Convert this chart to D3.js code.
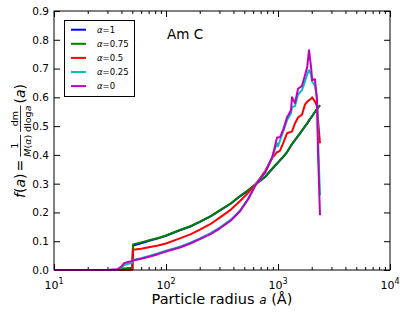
<!DOCTYPE html>
<html>
<head>
<meta charset="utf-8">
<title>Am C</title>
<style>
body { margin: 0; background: #fff; }
text { font-family: "DejaVu Sans", sans-serif; fill: #000; }
.axis path { display: none; }
.axis line { stroke: #000; stroke-width: 1; }
.curve { fill: none; stroke-width: 2; stroke-linejoin: round; }
</style>
</head>
<body>
<script src="https://cdn.jsdelivr.net/npm/d3@7/dist/d3.min.js"></script>
<script>

// particle radius grid (Angstrom)
var radius = [10, 30, 37, 40, 42, 45, 50, 50.8, 60, 72, 85, 100, 133, 165, 201, 250, 304, 380, 458,
  540, 624, 700, 771, 886, 940, 979, 1000, 1042, 1110, 1203, 1306, 1334, 1419, 1510, 1638, 1742,
  1823, 1892, 1973, 2018, 2137, 2229, 2280, 2371];

// f(a) for each alpha
var alpha1 = [0, 0, 0, 0.002, 0.004, 0.005, 0.007, 0.085, 0.093, 0.102, 0.11, 0.119, 0.138, 0.151,
  0.167, 0.186, 0.207, 0.231, 0.256, 0.276, 0.296, 0.311, 0.324, 0.351, 0.362, 0.369, 0.373, 0.381,
  0.392, 0.409, 0.432, 0.437, 0.451, 0.465, 0.484, 0.499, 0.509, 0.519, 0.529, 0.534, 0.549, 0.559,
  0.564, 0.572];
var alpha075 = [0, 0, 0, 0.002, 0.005, 0.006, 0.008, 0.089, 0.096, 0.104, 0.111, 0.12, 0.139, 0.152,
  0.168, 0.187, 0.208, 0.232, 0.257, 0.277, 0.297, 0.312, 0.325, 0.352, 0.363, 0.37, 0.374, 0.382,
  0.393, 0.41, 0.433, 0.438, 0.452, 0.466, 0.485, 0.5, 0.51, 0.52, 0.53, 0.535, 0.55, 0.56,
  0.565, 0.573];
var alpha05 = [0, 0, 0, 0, 0, 0, 0.001, 0.07, 0.074, 0.08, 0.085, 0.092, 0.11, 0.124,
  0.14, 0.16, 0.183, 0.21, 0.24, 0.268, 0.296, 0.322, 0.345, 0.39, 0.4, 0.41, 0.41, 0.415,
  0.44, 0.475, 0.48, 0.482, 0.51, 0.53, 0.54, 0.575, 0.585, 0.59, 0.595, 0.6, 0.585, 0.57,
  0.52, 0.44];
var alpha025 = [0, 0, 0.002, 0.008, 0.016, 0.02, 0.026, 0.035, 0.041, 0.05, 0.058, 0.067, 0.081, 0.095,
  0.11, 0.128, 0.148, 0.175, 0.207, 0.247, 0.294, 0.319, 0.34, 0.39, 0.42, 0.44, 0.43, 0.45,
  0.48, 0.52, 0.545, 0.566, 0.57, 0.61, 0.625, 0.655, 0.68, 0.694, 0.68, 0.655, 0.64, 0.6,
  0.45, 0.26];
var alpha0 = [0, 0, 0.003, 0.012, 0.023, 0.027, 0.031, 0.033, 0.039, 0.047, 0.055, 0.064, 0.078, 0.092,
  0.107, 0.125, 0.145, 0.172, 0.204, 0.245, 0.292, 0.318, 0.34, 0.39, 0.43, 0.46, 0.46, 0.462,
  0.486, 0.53, 0.555, 0.6, 0.58, 0.63, 0.64, 0.677, 0.705, 0.764, 0.705, 0.66, 0.663, 0.59,
  0.4, 0.19];

var seriesNames = ["1", "0.75", "0.5", "0.25", "0"];
var seriesColors = ["#0000ff", "#008000", "#ff0000", "#00bfbf", "#bf00bf"];
var seriesValues = [alpha1, alpha075, alpha05, alpha025, alpha0];

var xMajor = [10, 100, 1000, 10000];
var xExponents = ["1", "2", "3", "4"];
var yTicks = [0, 0.1, 0.2, 0.3, 0.4, 0.5, 0.6, 0.7, 0.8, 0.9];

var width = 407, height = 315;
var plotL = 54, plotR = 390, plotT = 11, plotB = 270;

var svg = d3.select("body").append("svg")
    .attr("width", width)
    .attr("height", height);

var x = d3.scaleLog().domain([10, 10000]).range([plotL, plotR]);
var y = d3.scaleLinear().domain([0, 0.9]).range([plotB, plotT]);

// minor ticks 2..9 per decade
var xMinor = [];
[10, 100, 1000].forEach(function(d) {
  for (var k = 2; k <= 9; k++) xMinor.push(d * k);
});

// ticks point inward, on all four sides
svg.append("g").attr("class", "axis")
    .attr("transform", "translate(0," + plotB + ")")
    .call(d3.axisBottom(x).tickValues(xMajor).tickSize(-6).tickFormat(""));
svg.append("g").attr("class", "axis")
    .attr("transform", "translate(0," + plotB + ")")
    .call(d3.axisBottom(x).tickValues(xMinor).tickSize(-3).tickFormat(""));
svg.append("g").attr("class", "axis")
    .attr("transform", "translate(0," + plotT + ")")
    .call(d3.axisTop(x).tickValues(xMajor).tickSize(-6).tickFormat(""));
svg.append("g").attr("class", "axis")
    .attr("transform", "translate(0," + plotT + ")")
    .call(d3.axisTop(x).tickValues(xMinor).tickSize(-3).tickFormat(""));

svg.append("g").attr("class", "axis")
    .attr("transform", "translate(" + plotL + ",0)")
    .call(d3.axisLeft(y).tickValues(yTicks).tickSize(-6).tickPadding(5).tickFormat(d3.format(".1f")))
    .selectAll("text")
    .style("font-size", "10.5px")
    .style("font-family", "DejaVu Sans");
svg.append("g").attr("class", "axis")
    .attr("transform", "translate(" + plotR + ",0)")
    .call(d3.axisRight(y).tickValues(yTicks).tickSize(-6).tickFormat(""));

// x tick labels with superscripts
var xl = svg.append("g").selectAll("text")
    .data(xMajor)
    .enter().append("text")
    .attr("x", function(d) { return x(d); })
    .attr("y", 289)
    .attr("text-anchor", "middle")
    .style("font-size", "11px");
xl.append("tspan").text("10");
xl.append("tspan")
    .attr("dy", -5)
    .style("font-size", "8px")
    .text(function(d, i) { return xExponents[i]; });

// curves
var line = d3.line()
    .x(function(d) { return x(d[0]); })
    .y(function(d) { return y(d[1]); });

svg.append("g").selectAll("path")
    .data(seriesValues)
    .enter().append("path")
    .attr("class", "curve")
    .attr("stroke", function(d, i) { return seriesColors[i]; })
    .attr("d", function(vals) {
      return line(vals.map(function(v, j) { return [radius[j], v]; }));
    });

// frame
svg.append("rect")
    .attr("x", plotL).attr("y", plotT)
    .attr("width", plotR - plotL).attr("height", plotB - plotT)
    .attr("fill", "none")
    .attr("stroke", "#000")
    .attr("stroke-width", 1);

// title inside plot
svg.append("text")
    .attr("x", 167).attr("y", 39)
    .style("font-size", "13.5px")
    .text("Am C");

// legend
var lg = svg.append("g");
lg.append("rect")
    .attr("x", 64.5).attr("y", 20.5)
    .attr("width", 70).attr("height", 76)
    .attr("fill", "#fff")
    .attr("stroke", "#000");
var row = lg.selectAll("g.row")
    .data(seriesNames)
    .enter().append("g")
    .attr("class", "row")
    .attr("transform", function(d, i) { return "translate(0," + (29.7 + i * 14.1) + ")"; });
row.append("line")
    .attr("x1", 71).attr("x2", 86)
    .attr("stroke-width", 2)
    .attr("stroke", function(d, i) { return seriesColors[i]; });
var lt = row.append("text")
    .attr("x", 97).attr("y", 3)
    .style("font-size", "8.5px");
lt.append("tspan").style("font-style", "italic").text("\u03b1");
lt.append("tspan").text(function(d) { return "=" + d; });

// x label
var xt = svg.append("text")
    .attr("x", 222).attr("y", 304)
    .attr("text-anchor", "middle")
    .style("font-size", "14.5px");
xt.append("tspan").text("Particle radius ");
xt.append("tspan").style("font-style", "italic").style("font-size", "12px").text("a");
xt.append("tspan").text(" (\u00c5)");

// y label: f(a) = 1/M(alpha) dm/dloga (a), built piece by piece
var yl = svg.append("g");
var pos = 0;
function piece(parts, size, dy) {
  var t = yl.append("text").attr("x", pos).attr("y", dy).style("font-size", size + "px");
  parts.forEach(function(p) {
    t.append("tspan").style("font-style", p[1] ? "italic" : "normal").text(p[0]);
  });
  return t;
}
function run(parts, size) {
  var t = piece(parts, size, 0);
  pos += t.node().getComputedTextLength();
}
function frac(num, den) {
  var start = pos;
  var n = piece(num, 9.5, -7.5);
  var d = piece(den, 9.5, 5.5);
  var w = Math.max(n.node().getComputedTextLength(), d.node().getComputedTextLength());
  n.attr("x", start + (w - n.node().getComputedTextLength()) / 2 + 1);
  d.attr("x", start + (w - d.node().getComputedTextLength()) / 2 + 1);
  yl.append("line")
    .attr("x1", start + 1).attr("x2", start + w + 1)
    .attr("y1", -4.5).attr("y2", -4.5)
    .attr("stroke", "#000").attr("stroke-width", 0.8);
  pos += w + 3;
}
run([["f", true], ["(", false], ["a", true], [")", false]], 14);
pos += 2;
run([["=", false]], 14);
pos += 2;
frac([["1", false]], [["M", true], ["(", false], ["\u03b1", true], [")", false]]);
frac([["dm", false]], [["dlog", false], ["a", true]]);
run([["(", false], ["a", true], [")", false]], 14);
yl.attr("transform", "translate(25," + (141 + pos / 2) + ") rotate(-90)");

</script>
</body>
</html>
